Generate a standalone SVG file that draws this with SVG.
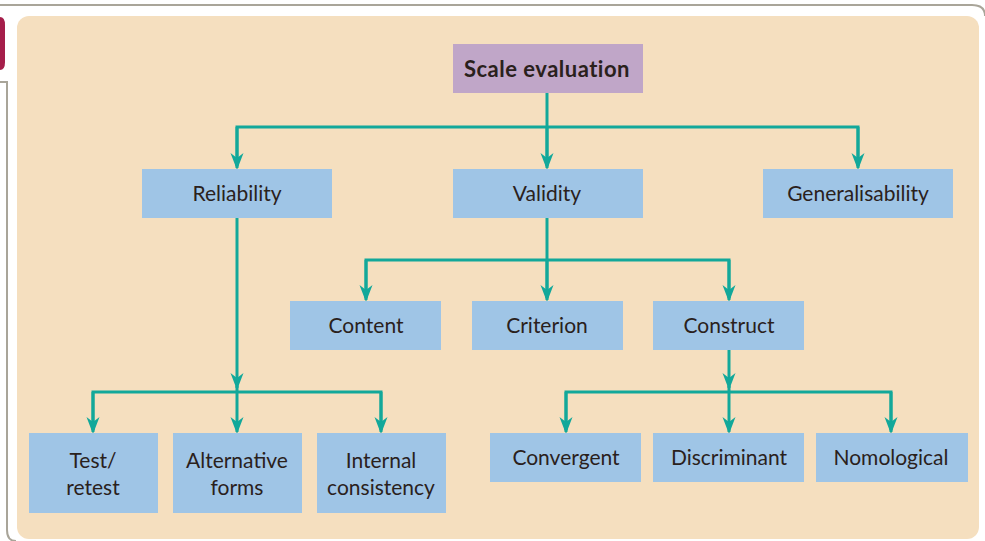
<svg xmlns="http://www.w3.org/2000/svg" width="985" height="541" viewBox="0 0 985 541">
<style>
.frame{fill:none;stroke:#a9a599;stroke-width:2}
.box{fill:#9fc5e6}
.top{fill:#c0a6c8}
.t{font-family:Lato,"Open Sans",sans-serif;font-size:21px;fill:#2a211c;text-anchor:middle;dominant-baseline:central}
.b{font-weight:bold;font-size:22px;letter-spacing:0.5px}
.c{fill:none;stroke:#12a89a;stroke-width:3}
</style>
<defs>
<marker id="ah" markerWidth="17" markerHeight="20" refX="15" refY="6.5" orient="auto" markerUnits="userSpaceOnUse" viewBox="0 0 17 13">
<path d="M0,0 L17,6.5 L0,13 L5,6.5 Z" fill="#12a89a"/>
</marker>
</defs>
<path class="frame" d="M0,5 H972 Q985,5 985,16"/>
<path class="frame" d="M0,82 H7 V530 Q7,541 16,541"/>
<path d="M0,17 Q5,17 5,25 V62 Q5,70 0,70 Z" fill="#a51e4a"/>
<rect x="17" y="16" width="962" height="523" rx="12" fill="#f5dfbf"/>
<g id="connectors">
<path class="c" d="M547,93 V166"/>
<path class="c" d="M237,166 V127 H858 V166"/>
<path class="c" marker-end="url(#ah)" d="M547,127 V168"/>
<path class="c" marker-end="url(#ah)" d="M237,127 V168"/>
<path class="c" marker-end="url(#ah)" d="M858,127 V168"/>
<path class="c" d="M547,218 V298"/>
<path class="c" d="M366,298 V260 H729 V298"/>
<path class="c" marker-end="url(#ah)" d="M547,260 V300"/>
<path class="c" marker-end="url(#ah)" d="M366,260 V300"/>
<path class="c" marker-end="url(#ah)" d="M729,260 V300"/>
<path class="c" marker-end="url(#ah)" d="M237,218 V388"/>
<path class="c" d="M237,386 V392"/>
<path class="c" d="M93,430 V392 H381 V430"/>
<path class="c" marker-end="url(#ah)" d="M93,392 V432"/>
<path class="c" marker-end="url(#ah)" d="M237,392 V432"/>
<path class="c" marker-end="url(#ah)" d="M381,392 V432"/>
<path class="c" marker-end="url(#ah)" d="M729,350 V388"/>
<path class="c" d="M729,386 V392"/>
<path class="c" d="M566,430 V392 H891 V430"/>
<path class="c" marker-end="url(#ah)" d="M566,392 V432"/>
<path class="c" marker-end="url(#ah)" d="M729,392 V432"/>
<path class="c" marker-end="url(#ah)" d="M891,392 V432"/>
</g>
<g id="scale-evaluation"><rect class="top" x="453" y="44" width="190" height="49"/><text class="t b" x="547" y="68">Scale evaluation</text></g>
<g id="reliability"><rect class="box" x="142" y="169" width="190" height="49"/><text class="t" x="237" y="192">Reliability</text></g>
<g id="validity"><rect class="box" x="453" y="169" width="190" height="49"/><text class="t" x="547" y="192">Validity</text></g>
<g id="generalisability"><rect class="box" x="763" y="169" width="190" height="49"/><text class="t" x="858" y="192">Generalisability</text></g>
<g id="content"><rect class="box" x="290" y="301" width="151" height="49"/><text class="t" x="366" y="324">Content</text></g>
<g id="criterion"><rect class="box" x="472" y="301" width="151" height="49"/><text class="t" x="547" y="324">Criterion</text></g>
<g id="construct"><rect class="box" x="653" y="301" width="151" height="49"/><text class="t" x="729" y="324">Construct</text></g>
<g id="test-retest"><rect class="box" x="29" y="433" width="129" height="80"/><text class="t" x="93" y="459">Test/</text><text class="t" x="93" y="486">retest</text></g>
<g id="alternative-forms"><rect class="box" x="173" y="433" width="129" height="80"/><text class="t" x="237" y="459">Alternative</text><text class="t" x="237" y="486">forms</text></g>
<g id="internal-consistency"><rect class="box" x="317" y="433" width="129" height="80"/><text class="t" x="381" y="459">Internal</text><text class="t" x="381" y="486">consistency</text></g>
<g id="convergent"><rect class="box" x="490" y="433" width="151" height="49"/><text class="t" x="566" y="456">Convergent</text></g>
<g id="discriminant"><rect class="box" x="653" y="433" width="151" height="49"/><text class="t" x="729" y="456">Discriminant</text></g>
<g id="nomological"><rect class="box" x="816" y="433" width="152" height="49"/><text class="t" x="891" y="456">Nomological</text></g>
</svg>
